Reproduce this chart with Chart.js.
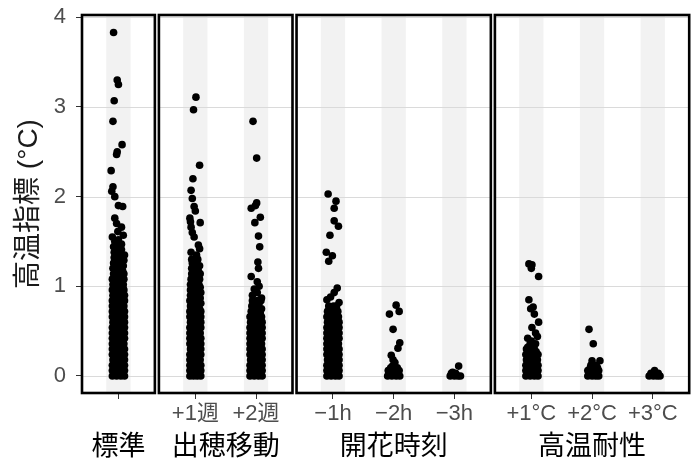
<!DOCTYPE html>
<html>
<head>
<meta charset="utf-8">
<script src="https://cdn.jsdelivr.net/npm/chart.js@4"></script>
<style>
  html, body { margin: 0; padding: 0; background: #fff; }
  canvas { display: block; }
</style>
</head>
<body>
<canvas id="chart" width="693" height="470"></canvas>
<script>
const facets = ['標準', '出穂移動', '開花時刻', '高温耐性'];
const catLabels = [[''], ['+1週', '+2週'], ['−1h', '−2h', '−3h'], ['+1°C', '+2°C', '+3°C']];
const yTicks = [0, 1, 2, 3, 4];

// rows of points: [value, [jitter of each point at that value]]
const hyojun = [
  [0.00,[-0.10,-0.03,0.04,0.10]], [0.03,[-0.07,0.00,0.07]],
  [0.06,[-0.10,-0.03,0.04,0.10]], [0.09,[-0.06,0.01,0.08]],
  [0.12,[-0.10,-0.03,0.04,0.10]], [0.15,[-0.07,0.00,0.07]],
  [0.18,[-0.09,-0.02,0.04,0.10]], [0.21,[-0.06,0.01,0.07]],
  [0.24,[-0.10,-0.03,0.04,0.10]], [0.27,[-0.07,0.00,0.07]],
  [0.30,[-0.10,-0.03,0.03,0.10]], [0.33,[-0.07,0.00,0.07]],
  [0.36,[-0.10,-0.03,0.04,0.09]], [0.39,[-0.06,0.01,0.07]],
  [0.42,[-0.10,-0.03,0.04,0.10]], [0.45,[-0.07,0.00,0.07]],
  [0.48,[-0.10,-0.02,0.04,0.10]], [0.51,[-0.07,0.00,0.06]],
  [0.54,[-0.10,-0.03,0.04,0.10]], [0.57,[-0.07,0.00,0.07]],
  [0.60,[-0.09,-0.03,0.04,0.10]], [0.63,[-0.06,0.01,0.07]],
  [0.66,[-0.10,-0.03,0.04,0.10]], [0.69,[-0.07,0.00,0.07]],
  [0.72,[-0.10,-0.03,0.03,0.10]], [0.75,[-0.07,0.00,0.07]],
  [0.78,[-0.10,-0.02,0.04,0.09]], [0.81,[-0.06,0.01,0.07]],
  [0.84,[-0.10,-0.03,0.04,0.10]], [0.87,[-0.07,0.00,0.07]],
  [0.90,[-0.09,-0.03,0.04,0.10]], [0.93,[-0.07,0.00,0.06]],
  [0.96,[-0.10,-0.03,0.04,0.09]], [0.99,[-0.06,0.01,0.07]],
  [1.02,[-0.09,-0.02,0.04,0.08]], [1.05,[-0.06,0.01,0.06]],
  [1.08,[-0.10,-0.03,0.03,0.09]], [1.11,[-0.06,0.00,0.06]],
  [1.14,[-0.08,-0.02,0.04,0.09]], [1.17,[-0.05,0.02,0.07]],
  [1.20,[-0.09,-0.02,0.04]], [1.23,[-0.06,0.01,0.08]],
  [1.26,[-0.08,-0.01,0.05]], [1.29,[-0.04,0.02,0.09]],
  [1.32,[-0.07,0.00,0.06]], [1.35,[-0.03,0.04,0.10]],
  [1.38,[-0.07,0.01]], [1.41,[-0.04,0.05]],
  [1.44,[-0.08,0.01]], [1.47,[-0.03,0.05]],
  [1.50,[-0.06]], [1.52,[0.00]], [1.55,[-0.10]], [1.57,[0.08]],
  [1.61,[-0.01]], [1.66,[0.05]], [1.70,[-0.03]], [1.76,[-0.06]],
  [1.89,[0.07]], [1.90,[0.00]], [2.00,[-0.06]], [2.06,[-0.11]],
  [2.11,[-0.09]], [2.29,[-0.12]], [2.47,[-0.03]], [2.50,[-0.02]],
  [2.58,[0.06]], [2.84,[-0.09]], [3.07,[-0.07]], [3.25,[0.00]],
  [3.30,[-0.02]], [3.83,[-0.08]]
];

const shusui1 = [
  [0.00,[-0.09,-0.03,0.03,0.09]], [0.03,[-0.06,0.00,0.06]],
  [0.06,[-0.09,-0.03,0.03,0.09]], [0.09,[-0.06,0.01,0.06]],
  [0.12,[-0.09,-0.02,0.03,0.09]], [0.15,[-0.06,0.00,0.06]],
  [0.18,[-0.09,-0.03,0.03,0.08]], [0.21,[-0.05,0.00,0.06]],
  [0.24,[-0.09,-0.03,0.03,0.09]], [0.27,[-0.06,0.00,0.06]],
  [0.30,[-0.08,-0.02,0.03,0.09]], [0.33,[-0.06,0.01,0.06]],
  [0.36,[-0.09,-0.03,0.03,0.09]], [0.39,[-0.06,0.00,0.05]],
  [0.42,[-0.09,-0.03,0.02,0.09]], [0.45,[-0.06,0.00,0.06]],
  [0.48,[-0.09,-0.02,0.03,0.08]], [0.51,[-0.05,0.01,0.06]],
  [0.54,[-0.09,-0.03,0.03,0.09]], [0.57,[-0.06,0.00,0.06]],
  [0.60,[-0.08,-0.03,0.03,0.09]], [0.63,[-0.06,0.00,0.06]],
  [0.66,[-0.09,-0.02,0.03,0.09]], [0.69,[-0.05,0.01,0.06]],
  [0.72,[-0.09,-0.02,0.04,0.09]], [0.75,[-0.05,0.01,0.07]],
  [0.78,[-0.08,-0.01,0.05]], [0.81,[-0.04,0.02,0.09]],
  [0.84,[-0.09,-0.02,0.05]], [0.87,[-0.05,0.02,0.08]],
  [0.90,[-0.08,0.00,0.06]], [0.93,[-0.04,0.03,0.09]],
  [0.96,[-0.08,-0.01,0.05]], [0.99,[-0.05,0.02,0.08]],
  [1.02,[-0.08,0.00,0.06]], [1.05,[-0.04,0.03]],
  [1.08,[-0.07,0.00,0.07]], [1.11,[-0.03,0.04]],
  [1.14,[-0.06,0.02,0.08]], [1.17,[-0.02,0.05]],
  [1.20,[-0.06,0.03]], [1.23,[-0.02,0.07]],
  [1.26,[-0.05,0.02]], [1.30,[-0.06,0.04]],
  [1.35,[0.02]], [1.38,[-0.07]], [1.42,[0.07]], [1.46,[0.05]],
  [1.55,[-0.02]], [1.60,[-0.05]], [1.66,[-0.07]], [1.71,[0.08]],
  [1.72,[-0.08]], [1.76,[-0.09]], [1.84,[0.00]], [1.89,[-0.02]],
  [1.98,[-0.05]], [2.07,[-0.07]], [2.20,[-0.04]], [2.35,[0.07]],
  [2.97,[-0.03]], [3.11,[0.01]]
];

const shusui2 = [
  [0.00,[-0.10,-0.03,0.04,0.10]], [0.03,[-0.07,0.00,0.07]],
  [0.06,[-0.10,-0.03,0.04,0.10]], [0.09,[-0.06,0.01,0.07]],
  [0.12,[-0.10,-0.03,0.04,0.10]], [0.15,[-0.07,0.00,0.07]],
  [0.18,[-0.09,-0.02,0.04,0.10]], [0.21,[-0.06,0.01,0.07]],
  [0.24,[-0.10,-0.03,0.04,0.10]], [0.27,[-0.07,0.00,0.07]],
  [0.30,[-0.10,-0.03,0.03,0.10]], [0.33,[-0.07,0.00,0.06]],
  [0.36,[-0.10,-0.03,0.04,0.09]], [0.39,[-0.06,0.01,0.07]],
  [0.42,[-0.10,-0.03,0.04,0.10]], [0.45,[-0.07,0.00,0.07]],
  [0.48,[-0.10,-0.02,0.04,0.10]], [0.51,[-0.07,0.00,0.06]],
  [0.54,[-0.10,-0.03,0.04,0.10]], [0.57,[-0.07,0.00,0.07]],
  [0.60,[-0.09,-0.03,0.04,0.10]], [0.63,[-0.06,0.01,0.07]],
  [0.66,[-0.10,-0.03,0.04,0.09]], [0.69,[-0.07,0.00,0.07]],
  [0.72,[-0.08,0.00,0.07]], [0.75,[-0.04,0.04,0.09]],
  [0.78,[-0.07,0.01]], [0.81,[-0.03,0.05]],
  [0.84,[-0.06,0.02,0.08]], [0.87,[0.09]],
  [0.90,[-0.06]], [0.93,[0.02]], [0.97,[-0.03]], [1.00,[0.05]],
  [1.05,[0.02]], [1.11,[-0.08]], [1.20,[0.04]], [1.27,[0.03]],
  [1.44,[0.06]], [1.56,[0.04]], [1.71,[-0.02]], [1.77,[0.07]],
  [1.87,[-0.08]], [1.90,[-0.01]], [1.93,[0.01]], [2.43,[0.01]],
  [2.84,[-0.05]]
];

const kaika1 = [
  [0.00,[-0.10,-0.03,0.04,0.10]], [0.03,[-0.07,0.00,0.07]],
  [0.06,[-0.10,-0.03,0.04,0.10]], [0.09,[-0.06,0.01,0.07]],
  [0.12,[-0.10,-0.03,0.04,0.10]], [0.15,[-0.07,0.00,0.07]],
  [0.18,[-0.09,-0.02,0.04,0.10]], [0.21,[-0.06,0.01,0.07]],
  [0.24,[-0.10,-0.03,0.04,0.10]], [0.27,[-0.07,0.00,0.07]],
  [0.30,[-0.10,-0.03,0.03,0.10]], [0.33,[-0.07,0.00,0.06]],
  [0.36,[-0.10,-0.03,0.04,0.09]], [0.39,[-0.06,0.01,0.07]],
  [0.42,[-0.10,-0.03,0.04,0.10]], [0.45,[-0.07,0.00,0.07]],
  [0.48,[-0.10,-0.02,0.04,0.10]], [0.51,[-0.07,0.00,0.06]],
  [0.54,[-0.10,-0.03,0.04,0.10]], [0.57,[-0.07,0.00,0.07]],
  [0.60,[-0.09,-0.03,0.04,0.10]], [0.63,[-0.06,0.01,0.07]],
  [0.66,[-0.10,-0.03,0.04,0.09]], [0.69,[-0.07,0.00,0.07]],
  [0.72,[-0.09,-0.02,0.04,0.08]], [0.75,[-0.05,0.02]],
  [0.78,[-0.07,0.01,0.06]], [0.82,[0.10]], [0.85,[-0.10]],
  [0.88,[-0.04]], [0.93,[0.02]], [0.98,[0.07]],
  [1.28,[-0.07]], [1.34,[-0.01]], [1.38,[-0.11]], [1.57,[-0.05]],
  [1.67,[0.09]], [1.73,[0.02]], [1.87,[0.02]], [1.95,[0.05]],
  [2.03,[-0.08]]
];

const kaika2 = [
  [0.00,[-0.10,-0.03,0.04,0.10]], [0.03,[-0.07,0.00,0.07]],
  [0.06,[-0.09,-0.02,0.04,0.09]], [0.09,[-0.05,0.02,0.06]],
  [0.11,[-0.02]], [0.15,[0.02]], [0.18,[-0.01]], [0.23,[-0.04]],
  [0.31,[0.07]], [0.37,[0.10]], [0.52,[-0.01]], [0.69,[-0.07]],
  [0.72,[0.09]], [0.79,[0.04]]
];

const kaika3 = [
  [0.00,[-0.07,0.00,0.06,0.10]], [0.03,[-0.05,0.02]],
  [0.04,[-0.03]], [0.11,[0.07]]
];

const koon1 = [
  [0.00,[-0.09,-0.02,0.05,0.11]], [0.03,[-0.06,0.01,0.08]],
  [0.06,[-0.09,-0.02,0.05,0.11]], [0.09,[-0.05,0.02,0.08]],
  [0.12,[-0.09,-0.02,0.04,0.11]], [0.15,[-0.06,0.01,0.08]],
  [0.18,[-0.08,-0.02,0.05,0.10]], [0.21,[-0.06,0.01,0.07]],
  [0.24,[-0.09,-0.02,0.05,0.11]], [0.27,[-0.05,0.01,0.08]],
  [0.30,[-0.08,-0.01,0.05]], [0.32,[-0.06,0.03]],
  [0.36,[-0.02,0.07]], [0.39,[0.00]], [0.42,[-0.06]], [0.44,[0.10]],
  [0.48,[0.07]], [0.54,[0.01]], [0.60,[0.12]], [0.69,[0.05]],
  [0.75,[-0.01]], [0.77,[0.03]], [0.85,[-0.04]], [1.11,[0.12]],
  [1.20,[0.00]], [1.24,[0.01]], [1.25,[-0.04]]
];

const koon2 = [
  [0.00,[-0.07,0.00,0.06,0.11]], [0.03,[-0.04,0.03,0.08]],
  [0.06,[-0.07,0.00,0.06,0.11]], [0.09,[-0.03,0.04,0.09]],
  [0.12,[-0.02,0.07]], [0.17,[0.00,0.13]], [0.36,[0.02]],
  [0.52,[-0.05]]
];

const koon3 = [
  [0.00,[-0.06,0.01,0.07,0.12]], [0.03,[-0.03,0.04,0.09]],
  [0.06,[0.03]]
];

const series = [[hyojun], [shusui1, shusui2], [kaika1, kaika2, kaika3], [koon1, koon2, koon3]];

const GAP = 0.2 / 3;
const panels = [];
let start = 0;
catLabels.forEach((cats) => {
  const width = cats.length + 0.2;
  panels.push({ start: start, end: start + width, centers: cats.map((c, j) => start + 0.6 + j) });
  start += width + GAP;
});
const xMax = start - GAP;
const tickCenters = panels.flatMap((p) => p.centers);
const tickTexts = catLabels.flat();

const datasets = [];
series.forEach((group, i) => {
  group.forEach((rows, j) => {
    const cx = panels[i].centers[j];
    datasets.push({
      data: rows.flatMap(([v, jit]) => jit.map((d) => ({ x: cx + d, y: v }))),
      backgroundColor: '#000000',
      pointBorderWidth: 0,
      pointRadius: 3.8,
      pointHoverRadius: 3.8,
    });
  });
});

const FONT = "'Liberation Sans', 'Noto Sans CJK JP', sans-serif";

const facetPlugin = {
  id: 'facets',
  beforeDatasetsDraw(chart) {
    const { ctx, chartArea: a, scales } = chart;
    const x = scales.x, y = scales.y;
    ctx.save();
    panels.forEach((p) => {
      const l = x.getPixelForValue(p.start);
      const r = x.getPixelForValue(p.end);
      // grey stripe behind each category
      ctx.fillStyle = '#F2F2F2';
      p.centers.forEach((c) => {
        const bl = x.getPixelForValue(c - 0.2);
        const br = x.getPixelForValue(c + 0.2);
        ctx.fillRect(bl, a.top, br - bl, a.bottom - a.top);
      });
      ctx.strokeStyle = '#DADADA';
      ctx.lineWidth = 1;
      yTicks.forEach((t) => {
        const py = Math.round(y.getPixelForValue(t)) + 0.5;
        ctx.beginPath();
        ctx.moveTo(l, py);
        ctx.lineTo(r, py);
        ctx.stroke();
      });
    });
    ctx.restore();
  },
  afterDatasetsDraw(chart) {
    const { ctx, chartArea: a, scales } = chart;
    const x = scales.x;
    ctx.save();
    ctx.strokeStyle = '#000000';
    ctx.lineWidth = 2.6;
    panels.forEach((p) => {
      const l = x.getPixelForValue(p.start);
      const r = x.getPixelForValue(p.end);
      ctx.strokeRect(l, a.top, r - l, a.bottom - a.top);
    });
    ctx.restore();
  },
  afterDraw(chart) {
    const { ctx, scales } = chart;
    const x = scales.x;
    ctx.save();
    ctx.fillStyle = '#000000';
    ctx.font = '27px ' + FONT;
    ctx.textAlign = 'center';
    ctx.textBaseline = 'middle';
    panels.forEach((p, i) => {
      const cx = (x.getPixelForValue(p.start) + x.getPixelForValue(p.end)) / 2;
      ctx.fillText(facets[i], cx, 448);
    });
    ctx.restore();
  },
};

new Chart(document.getElementById('chart'), {
  type: 'scatter',
  data: { datasets: datasets },
  plugins: [facetPlugin],
  options: {
    responsive: false,
    animation: false,
    layout: { padding: { top: 15, right: 2, left: 0, bottom: 0 } },
    plugins: {
      legend: { display: false },
      tooltip: { enabled: false },
    },
    scales: {
      x: {
        type: 'linear',
        min: 0,
        max: xMax,
        afterBuildTicks: (scale) => {
          scale.ticks = tickCenters.map((v) => ({ value: v }));
        },
        afterFit: (scale) => {
          scale.height = 77;
          scale.paddingLeft = 0;
          scale.paddingRight = 0;
        },
        border: { display: false },
        grid: {
          drawOnChartArea: false,
          drawTicks: true,
          tickLength: 6,
          color: '#333333',
          lineWidth: 1,
        },
        ticks: {
          autoSkip: false,
          maxRotation: 0,
          minRotation: 0,
          padding: 2,
          color: '#4D4D4D',
          font: { family: FONT, size: 22 },
          callback: (value, index) => tickTexts[index],
        },
      },
      y: {
        min: -0.19,
        max: 4.026,
        afterBuildTicks: (scale) => {
          scale.ticks = yTicks.map((v) => ({ value: v }));
        },
        afterFit: (scale) => {
          scale.width = 82;
          scale.paddingTop = 0;
          scale.paddingBottom = 0;
        },
        border: { display: false },
        grid: {
          drawOnChartArea: false,
          drawTicks: true,
          tickLength: 6,
          color: '#333333',
          lineWidth: 1,
        },
        ticks: {
          padding: 10,
          color: '#4D4D4D',
          font: { family: FONT, size: 22 },
        },
        title: {
          display: true,
          text: '高温指標 (°C)',
          color: '#1A1A1A',
          font: { family: FONT, size: 28 },
          padding: { top: 12 },
        },
      },
    },
  },
});
</script>
</body>
</html>
